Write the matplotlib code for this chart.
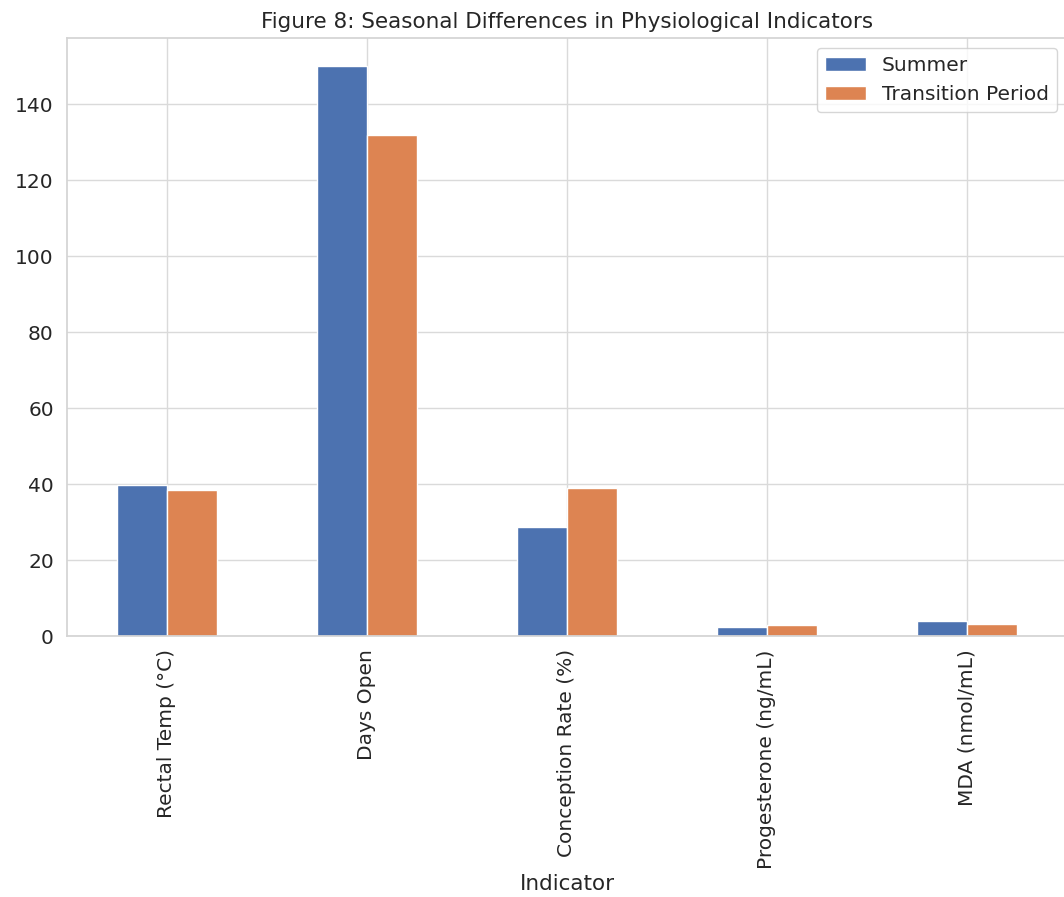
import numpy as np
import matplotlib
matplotlib.use("Agg")
import matplotlib.pyplot as plt
import seaborn as sns

############### Data ###############
indicators = ["Rectal Temp (°C)", "Days Open", "Conception Rate (%)",
              "Progesterone (ng/mL)", "MDA (nmol/mL)"]
summer = [39.8, 150, 28.8, 2.3, 4.0]
transition = [38.5, 132, 39.0, 2.9, 3.1]
series_names = ["Summer", "Transition Period"]

############### Plotting ###############
sns.set_theme(style="whitegrid", rc={"grid.color": "#dadada",
                                     "axes.edgecolor": "#d4d4d4"})

fig = plt.figure(figsize=(10.64, 8.97), dpi=100)
ax = fig.add_axes([67 / 1064, 261 / 897, 1000 / 1064, 598 / 897])

x = np.arange(len(indicators))
width = 0.25
ax.bar(x - width / 2, summer, width, color="#4c72b0", label=series_names[0])
ax.bar(x + width / 2, transition, width, color="#dd8452", label=series_names[1])

ax.set_xlim(-0.5, len(indicators) - 0.5)
ax.set_ylim(0, max(max(summer), max(transition)) * 1.05)
ax.set_xticks(x)
ax.set_xticklabels(indicators, rotation=90, fontsize=14.5)
ax.tick_params(axis="y", labelsize=14.5)
ax.set_xlabel("Indicator", fontsize=15.5)
ax.set_title("Figure 8: Seasonal Differences in Physiological Indicators",
             fontsize=15.5, pad=7)
ax.legend(loc="upper right", fontsize=14.5, borderaxespad=0.5)

fig.savefig("out.png", dpi=100)
